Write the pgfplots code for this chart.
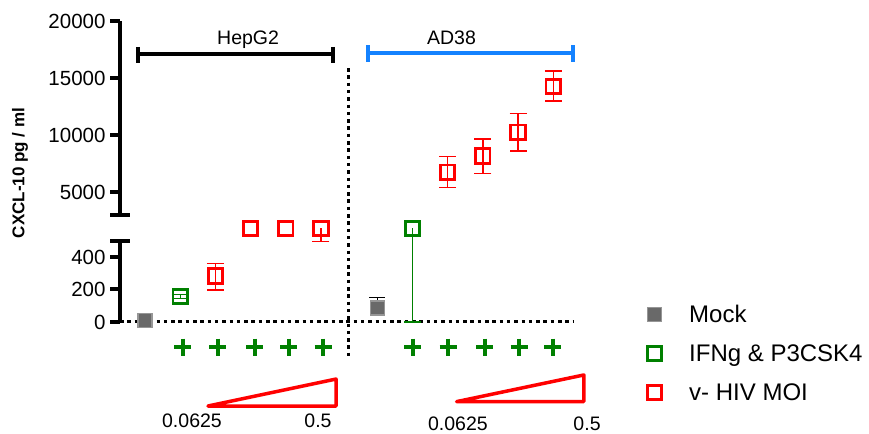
\documentclass[border=0pt]{standalone}
\usepackage{pgfplots}
\pgfplotsset{compat=1.18}
\usepackage{fontspec}
\setmainfont{Liberation Sans}
\definecolor{pgreen}{RGB}{0,128,0}
\definecolor{pred}{RGB}{255,0,0}
\definecolor{pblue}{RGB}{20,130,255}
\definecolor{mockfill}{RGB}{105,105,105}
\definecolor{mockdraw}{RGB}{150,150,150}
\pgfplotsset{
  base/.style={
    scale only axis, width=460bp, xmin=0.29, xmax=13.36,
    axis x line=none, axis y line*=left,
    y axis line style={line width=4bp},
    every tick/.style={black, line width=4bp},
    major tick length=10bp, tick align=outside,
    yticklabel style={font=\fontsize{20.5bp}{24bp}\selectfont, /pgf/number format/assume math mode=true, xshift=-1bp},
    /pgf/number format/1000 sep={},
    scaled y ticks=false,
    clip=false,
  },
  ebars/.style={error bars/.cd, y dir=#1, y explicit,
    error bar style={line width=1.3bp},
    error mark options={rotate=90, mark size=8.5bp, line width=1.3bp}},
  opensq/.style={only marks, mark=square, mark size=7.2bp, line width=2.8bp, #1,
    mark options={solid, draw=#1}},
}
\begin{document}
\begin{tikzpicture}
\path[use as bounding box] (0,0) rectangle (869bp,434bp);
% ---------- upper segment ----------
\begin{axis}[base, at={(120bp,218.7bp)}, anchor=south west, height=193.8bp,
  ymin=3000, ymax=20000, ytick={5000,10000,15000,20000}]
\addplot[opensq=pred, forget plot, ebars=both] coordinates {
  (9.6,6772) += (0,1368) -= (0,1351)
  (10.6,8202) += (0,1491) -= (0,1553)
  (11.6,10281) += (0,1666) -= (0,1641)
  (12.6,14281) += (0,1377) -= (0,1255)
};
% brackets
\addplot[black, line width=4bp, forget plot] coordinates {(0.80,17123) (6.34,17123)};
\addplot[black, line width=3.5bp, forget plot] coordinates {(0.80,17763) (0.80,16360)};
\addplot[black, line width=3.5bp, forget plot] coordinates {(6.34,17763) (6.34,16360)};
\addplot[pblue, line width=4bp, forget plot] coordinates {(7.335,17200) (13.16,17200)};
\addplot[pblue, line width=3.5bp, forget plot] coordinates {(7.335,17900) (7.335,16450)};
\addplot[pblue, line width=3.5bp, forget plot] coordinates {(13.16,17900) (13.16,16450)};
\node[font=\fontsize{19.5bp}{22bp}\selectfont, anchor=base] at (axis cs:3.93,18000) {HepG2};
\node[font=\fontsize{19.5bp}{22bp}\selectfont, anchor=base] at (axis cs:9.71,18000) {AD38};
\end{axis}
\draw[line width=4bp] (110bp,218.7bp) -- (130bp,218.7bp);
% ---------- lower segment ----------
\begin{axis}[base, at={(120bp,112bp)}, anchor=south west, height=81.25bp,
  ymin=0, ymax=500, ytick={0,200,400},
  legend style={at={(axis description cs:0,0)}, anchor=north west,
    xshift=526bp, yshift=17bp, draw=none, fill=none,
    font=\fontsize{24bp}{28bp}\selectfont, row sep=20.5bp, column sep=0bp,
    inner sep=0pt, nodes={inner sep=0pt, anchor=west}},
  legend cell align=left,
  legend image code/.code={\draw[#1] plot coordinates {(8bp,0bp)}; \path[draw=none, fill=none] (0bp,-8bp) rectangle (43bp,8bp);},
]
\addlegendimage{only marks, mark=square*, mark size=7bp, mark options={fill=mockfill, draw=mockdraw, line width=1.2bp}}
\addlegendentry{Mock}
\addlegendimage{only marks, mark=square, mark size=7bp, pgreen, line width=2.7bp}
\addlegendentry{IFNg \& P3CSK4}
\addlegendimage{only marks, mark=square, mark size=7bp, pred, line width=2.7bp}
\addlegendentry{v- HIV MOI}
% dotted reference lines
\addplot[black, line width=3bp, dash pattern=on 3.5bp off 3.8bp, forget plot] coordinates {(0.29,0) (13.16,0)};
\addplot[black, line width=3bp, dash pattern=on 3.5bp off 3.8bp, forget plot] coordinates {(6.795,1563) (6.795,-215)};
% mock
\addplot[only marks, mark=square*, mark size=7bp, mark options={fill=mockfill, draw=mockdraw, line width=1.2bp}, forget plot] coordinates {(1,8)};
\addplot[only marks, mark=square*, mark size=7bp, mark options={fill=mockfill, draw=mockdraw, line width=1.2bp}, forget plot,
  error bars/.cd, y dir=plus, y explicit, error bar style={black, line width=1.3bp},
  error mark options={rotate=90, mark size=8bp, line width=1.3bp, black}] coordinates {(7.6,86) +- (0,64)};
% IFNg & P3CSK4
\addplot[opensq=pgreen, forget plot, ebars=both] coordinates {(2,156) +- (0,12)};
\addplot[opensq=pgreen, forget plot, ebars=minus] coordinates {(8.6,576) -= (0,576)};
% v- HIV
\addplot[opensq=pred, forget plot, ebars=both] coordinates {(3,283) += (0,77) -= (0,86)};
\addplot[opensq=pred, forget plot] coordinates {(4,576) (5,576)};
\addplot[opensq=pred, forget plot, ebars=minus] coordinates {(6,576) -= (0,82)};
% plus signs
\addplot[only marks, mark=+, mark size=8.5bp, pgreen, line width=4.5bp, forget plot] coordinates {
  (2.08,-154) (3.07,-154) (4.12,-154) (5.09,-154) (6.06,-154)
  (8.61,-154) (9.61,-154) (10.66,-154) (11.63,-154) (12.59,-154)};
% MOI wedges
\addplot[pred, line width=3.5bp, line join=round, forget plot] coordinates {(2.79,-517) (6.43,-517) (6.43,-351)} --cycle;
\addplot[pred, line width=3.5bp, line join=round, forget plot] coordinates {(9.855,-490) (13.47,-490) (13.47,-326)} --cycle;
\node[font=\fontsize{19.5bp}{22bp}\selectfont, anchor=base, inner sep=0pt] at (axis cs:2.335,-652) {0.0625};
\node[font=\fontsize{19.5bp}{22bp}\selectfont, anchor=base, inner sep=0pt] at (axis cs:5.915,-652) {0.5};
\node[font=\fontsize{19.5bp}{22bp}\selectfont, anchor=base, inner sep=0pt] at (axis cs:9.89,-668) {0.0625};
\node[font=\fontsize{19.5bp}{22bp}\selectfont, anchor=base, inner sep=0pt] at (axis cs:13.56,-668) {0.5};
\end{axis}
\draw[line width=4bp] (110bp,193.25bp) -- (130bp,193.25bp);
\node[rotate=90, font=\bfseries\fontsize{17bp}{20bp}\selectfont] at (20bp,261bp) {CXCL-10 pg / ml};
\end{tikzpicture}
\end{document}
